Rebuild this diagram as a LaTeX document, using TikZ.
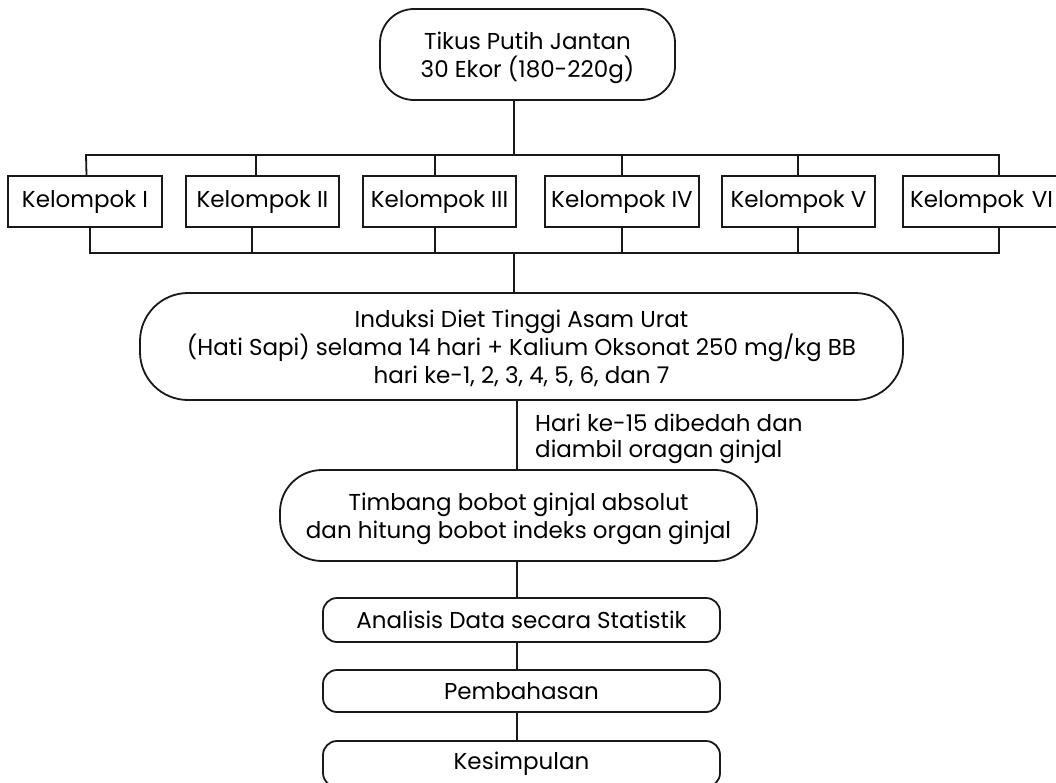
\documentclass[tikz,border=0pt]{standalone}
\usepackage{fontspec}
\setmainfont{Poppins}
\tikzset{
  base/.style={draw=black!90, line width=1.8pt, align=center, inner sep=0pt, font=\fontsize{23}{28}\selectfont},
  grp/.style={base, minimum height=51pt},
  rbox/.style={base, rounded corners=#1},
  multi/.style={text depth=0pt},
  conn/.style={draw=black!90, line width=1.8pt},
}
\begin{document}
\begin{tikzpicture}[x=1pt,y=-1pt]
\useasboundingbox (0,0) rectangle (1056,782);
\node[rbox=34pt, multi, minimum width=295pt, minimum height=91pt] (top) at (527.5,54.5) {Tikus Putih Jantan\\30 Ekor (180-220g)};
\node[grp, minimum width=154pt] (k1) at (85,201.5) {Kelompok I};
\node[grp, minimum width=153pt] (k2) at (262.5,201.5) {Kelompok II};
\node[grp, minimum width=153pt] (k3) at (439.5,201.5) {Kelompok III};
\node[grp, minimum width=154pt] (k4) at (622,201.5) {Kelompok IV};
\node[grp, minimum width=153pt] (k5) at (798.5,201.5) {Kelompok V};
\node[grp, minimum width=159pt, text width=153pt, align=left] (k6) at (982.5,201.5) {\hspace*{4pt}Kelompok VI};
\coordinate (busT) at (514,155);
\coordinate (busB) at (514,253);
\node[rbox=48pt, multi, minimum width=763pt, minimum height=107pt, font=\fontsize{23}{27.5}\selectfont] (ind) at (521.5,346.5) {Induksi Diet Tinggi Asam Urat\\(Hati Sapi) selama 14 hari + Kalium Oksonat 250 mg/kg BB\\hari ke-1, 2, 3, 4, 5, 6, dan 7};
\node[rbox=42pt, multi, minimum width=477pt, minimum height=91pt] (tim) at (518.5,515.5) {Timbang bobot ginjal absolut\\dan hitung bobot indeks organ ginjal};
\node[anchor=north west, align=left, inner sep=0pt, font=\fontsize{23}{26}\selectfont] (lbl) at (535,414) {Hari ke-15 dibedah dan\\diambil oragan ginjal};
\node[rbox=14pt, minimum width=397pt, minimum height=44pt] (ana) at (521.5,620) {Analisis Data secara Statistik};
\node[rbox=14pt, minimum width=397pt, minimum height=42pt] (pem) at (521.5,691) {Pembahasan};
\node[rbox=14pt, minimum width=397pt, minimum height=46pt] (kes) at (521.5,764) {Kesimpulan};
% connectors
\draw[conn] ([xshift=-13.5pt]top.south) -- (busT);
\draw[conn] ([xshift=1.5pt]k1.north) -- ([xshift=1pt]k1.north |- busT) -- ([xshift=16.5pt]k6.north |- busT) -- ([xshift=16.5pt]k6.north);
\draw[conn] ([xshift=-6.5pt]k2.north) -- ([xshift=-6.5pt]k2.north |- busT);
\draw[conn] ([xshift=-4.5pt]k3.north) -- ([xshift=-4.5pt]k3.north |- busT);
\draw[conn] (k4.north) -- (k4.north |- busT);
\draw[conn] ([xshift=-0.5pt]k5.north) -- ([xshift=-0.5pt]k5.north |- busT);
\draw[conn] ([xshift=5pt]k1.south) -- ([xshift=5pt]k1.south |- busB) -- ([xshift=16.5pt]k6.south |- busB) -- ([xshift=16.5pt]k6.south);
\draw[conn] ([xshift=-10.5pt]k2.south) -- ([xshift=-10.5pt]k2.south |- busB);
\draw[conn] ([xshift=-4.5pt]k3.south) -- ([xshift=-4.5pt]k3.south |- busB);
\draw[conn] (k4.south) -- (k4.south |- busB);
\draw[conn] ([xshift=-0.5pt]k5.south) -- ([xshift=-0.5pt]k5.south |- busB);
\draw[conn] (busB) -- (busB |- ind.north);
\draw[conn] ([xshift=-4.5pt]ind.south) -- ([xshift=-4.5pt]ind.south |- tim.north);
\draw[conn] ([xshift=-1.5pt]tim.south) -- ([xshift=-1.5pt]tim.south |- ana.north);
\draw[conn] ([xshift=-4.5pt]ana.south) -- ([xshift=-4.5pt]ana.south |- pem.north);
\draw[conn] ([xshift=-4.5pt]pem.south) -- ([xshift=-4.5pt]pem.south |- kes.north);
\end{tikzpicture}
\end{document}
